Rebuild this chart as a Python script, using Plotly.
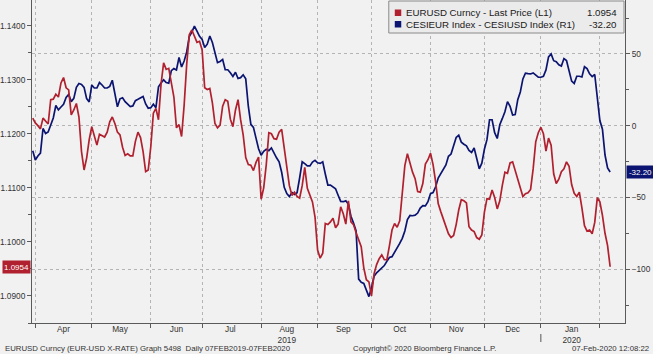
import pandas as pd
import plotly.graph_objects as go

# ---- data (daily, business days from 29-Mar-2019 to 07-Feb-2020) ----
eurusd = [
    1.1229, 1.1220, 1.1215, 1.1209, 1.1229, 1.1224, 1.1218, 1.1263, 1.1264, 1.1273,
    1.1268, 1.1294, 1.1304, 1.1285, 1.1281, 1.1235, 1.1244, 1.1256, 1.1231, 1.1167,
    1.1133, 1.1155, 1.1189, 1.1213, 1.1194, 1.1179, 1.1199, 1.1197, 1.1194, 1.1203,
    1.1222, 1.1231, 1.1219, 1.1203, 1.1198, 1.1175, 1.1160, 1.1163, 1.1159, 1.1159,
    1.1186, 1.1203, 1.1193, 1.1167, 1.1130, 1.1133, 1.1176, 1.1238, 1.1247, 1.1226,
    1.1292, 1.1331, 1.1319, 1.1321, 1.1290, 1.1268, 1.1211, 1.1217, 1.1195, 1.1253,
    1.1329, 1.1383, 1.1392, 1.1380, 1.1369, 1.1371, 1.1355, 1.1285, 1.1282, 1.1284,
    1.1257, 1.1219, 1.1211, 1.1216, 1.1251, 1.1263, 1.1260, 1.1227, 1.1213, 1.1244,
    1.1263, 1.1226, 1.1198, 1.1156, 1.1143, 1.1142, 1.1132, 1.1147, 1.1157, 1.1079,
    1.1100, 1.1143, 1.1202, 1.1200, 1.1191, 1.1190, 1.1203, 1.1208, 1.1174, 1.1130,
    1.1104, 1.1086, 1.1092, 1.1084, 1.1081, 1.1104, 1.1138, 1.1099, 1.1088, 1.1074,
    1.1046, 1.0985, 1.0970, 1.0979, 1.1034, 1.1032, 1.1037, 1.1044, 1.1026, 1.1033,
    1.1065, 1.1052, 1.1033, 1.1076, 1.1037, 1.1032, 1.1017, 1.1005, 1.0991, 1.0952,
    1.0930, 1.0926, 1.0900, 1.0941, 1.0958, 1.0969, 1.0976, 1.0967, 1.0967, 1.0993,
    1.1022, 1.1034, 1.1027, 1.1039, 1.1091, 1.1141, 1.1163, 1.1145, 1.1129, 1.1117,
    1.1093, 1.1092, 1.1108, 1.1144, 1.1152, 1.1164, 1.1143, 1.1111, 1.1071, 1.1056,
    1.1041, 1.1030, 1.1015, 1.1008, 1.1012, 1.1032, 1.1059, 1.1078, 1.1076, 1.1072,
    1.1028, 1.1022, 1.1019, 1.1008, 1.1005, 1.1013, 1.1055, 1.1080, 1.1079, 1.1096,
    1.1082, 1.1061, 1.1076, 1.1105, 1.1129, 1.1127, 1.1146, 1.1148, 1.1131, 1.1117,
    1.1102, 1.1084, 1.1089, 1.1091, 1.1097, 1.1135, 1.1185, 1.1202, 1.1212, 1.1200,
    1.1168, 1.1192, 1.1179, 1.1126, 1.1108, 1.1116, 1.1130, 1.1135, 1.1148, 1.1140,
    1.1106, 1.1090, 1.1084, 1.1092, 1.1063, 1.1030, 1.1020, 1.1022, 1.1015, 1.1036,
    1.1082, 1.1074, 1.1049, 1.1016, 1.0993, 1.0954,
]

cesi = [
    -17.4, -23.9, -21.1, -19.0, -1.9, -5.4, -4.3, 0.9, 5.4, 14.1,
    11.1, 13.1, 15.0, 19.8, 21.8, 16.8, 19.1, 26.8, 29.4, 28.8,
    26.7, 18.9, 16.6, 28.4, 26.3, 26.3, 30.1, 28.4, 26.3, 26.3,
    27.4, 31.7, 22.8, 13.2, 18.8, 19.5, 16.8, 14.7, 13.4, 13.8,
    17.5, 18.4, 19.3, 20.4, 15.2, 12.2, 12.6, 15.0, 12.6, 27.1,
    29.8, 32.0, 30.1, 29.7, 38.4, 39.8, 38.9, 47.6, 40.9, 45.1,
    51.4, 62.2, 65.3, 69.4, 66.0, 62.3, 60.2, 54.5, 56.8, 62.5,
    58.0, 50.1, 44.0, 44.8, 46.2, 39.1, 39.0, 36.9, 34.3, 37.3,
    32.9, 33.5, 35.5, 32.7, 13.6, 1.0, -1.1, -8.6, -16.0, -20.5,
    -17.8, -16.4, -17.3, -15.4, -19.3, -22.3, -25.1, -32.4, -42.9, -47.3,
    -49.4, -46.5, -47.9, -46.6, -36.4, -25.1, -26.4, -28.0, -28.0, -25.3,
    -24.1, -25.8, -26.2, -25.1, -33.6, -41.3, -41.3, -42.6, -43.9, -48.4,
    -52.7, -52.9, -52.3, -54.7, -63.0, -67.7, -73.3, -106.8, -109.1, -109.8,
    -114.6, -119.0, -113.0, -104.9, -102.4, -100.6, -99.0, -97.4, -94.4, -91.8,
    -91.2, -88.4, -85.5, -82.0, -78.4, -73.3, -65.4, -62.5, -62.7, -62.3,
    -60.8, -57.3, -55.6, -55.8, -52.9, -47.3, -46.5, -42.5, -36.4, -33.4,
    -31.0, -27.3, -21.3, -19.7, -14.0, -8.1, -6.6, -11.4, -12.9, -14.0,
    -17.2, -18.6, -15.5, -22.5, -30.0, -26.1, -16.4, -9.7, 4.2, 4.2,
    -4.8, -8.9, 0.7, 5.1, 9.8, 16.8, 13.6, 7.5, 7.8, 18.2,
    23.5, 32.6, 36.6, 36.3, 36.1, 36.8, 35.0, 33.8, 33.8, 34.5,
    38.9, 48.0, 50.0, 45.3, 44.6, 42.5, 41.6, 46.8, 45.5, 38.6,
    31.1, 29.5, 34.5, 34.5, 34.0, 41.2, 39.8, 36.2, 34.2, 35.7,
    20.0, 3.6, -2.4, -20.4, -29.4, -32.2,
]

dates = pd.bdate_range("2019-03-29", periods=len(eurusd))

month_starts = ["2019-04-01", "2019-05-01", "2019-06-03", "2019-07-01", "2019-08-01",
                "2019-09-02", "2019-10-01", "2019-11-01", "2019-12-02", "2020-01-01",
                "2020-02-03"]
month_mids = ["2019-04-16", "2019-05-16", "2019-06-17", "2019-07-16", "2019-08-15",
              "2019-09-16", "2019-10-16", "2019-11-15", "2019-12-17", "2020-01-17"]
month_labels = ["Apr", "May", "Jun", "Jul", "Aug<br>2019", "Sep", "Oct", "Nov", "Dec",
                "Jan<br>2020"]

name_l1 = "EURUSD Curncy - Last Price (L1)"
name_r1 = "CESIEUR Index - CESIUSD Index (R1)"
last_l1 = "1.0954"
last_r1 = "-32.20"

RED = "#b0202e"
NAVY = "#0b1470"
BG = "#f1f1f1"
AXC = "#5a5a5a"
FONT = "Liberation Sans, Arial, sans-serif"

xrange_ = ["2019-03-28 17:00", "2020-02-14 19:00"]
breaks = [dict(bounds=["sat", "mon"])]

fig = go.Figure()
# R1 series on the primary (right-side) axis, L1 series on the overlay so it draws on top
fig.add_trace(go.Scatter(x=dates, y=cesi, mode="lines", xaxis="x", yaxis="y",
                         line=dict(color=NAVY, width=1.7), showlegend=False,
                         hoverinfo="skip"))
fig.add_trace(go.Scatter(x=dates, y=eurusd, mode="lines", xaxis="x", yaxis="y2",
                         line=dict(color=RED, width=1.7), showlegend=False,
                         hoverinfo="skip"))
# empty carrier trace so the month-label axis (x2) is built
fig.add_trace(go.Scatter(x=[dates[0], dates[-1]], y=[None, None], mode="lines",
                         xaxis="x2", yaxis="y", showlegend=False, hoverinfo="skip"))

fig.update_layout(
    width=653, height=354,
    margin=dict(l=30, r=28, t=0, b=31, pad=0),
    paper_bgcolor=BG, plot_bgcolor=BG,
    showlegend=False,
    xaxis=dict(
        type="date", range=xrange_, rangebreaks=breaks,
        tickmode="array", tickvals=month_starts, ticktext=[""] * len(month_starts),
        ticks="outside", ticklen=4, tickcolor=AXC, tickwidth=1,
        showgrid=True, gridcolor="#b4b4b4", griddash="dot", gridwidth=1,
        showline=True, linecolor=AXC, linewidth=1, zeroline=False,
    ),
    xaxis2=dict(
        type="date", range=xrange_, rangebreaks=breaks, overlaying="x", anchor="y",
        side="bottom",
        tickmode="array", tickvals=month_mids, ticktext=month_labels,
        ticks="", showgrid=False, showline=False, zeroline=False,
        tickfont=dict(family=FONT, size=8.3, color="#333333"),
    ),
    yaxis=dict(
        range=[-137.4, 87.6], side="right", anchor="x",
        tick0=0, dtick=50,
        ticks="outside", ticklen=4, tickcolor=AXC,
        minor=dict(dtick=25, tick0=0, ticks="outside", ticklen=3, tickcolor=AXC,
                   showgrid=False),
        showgrid=True, gridcolor="#b4b4b4", griddash="dot", gridwidth=1,
        showline=True, linecolor=AXC, linewidth=1, zeroline=False,
        tickfont=dict(family=FONT, size=8.3, color="#333333"),
    ),
    yaxis2=dict(
        range=[1.0850, 1.14474], overlaying="y", side="left", anchor="x",
        tick0=1.09, dtick=0.01, tickformat=".4f",
        ticks="outside", ticklen=4, tickcolor=AXC,
        minor=dict(dtick=0.005, tick0=1.09, ticks="outside", ticklen=3, tickcolor=AXC,
                   showgrid=False),
        showgrid=False, showline=True, linecolor=AXC, linewidth=1, zeroline=False,
        tickfont=dict(family=FONT, size=8.3, color="#333333"),
    ),
)

W, H = 595.0, 323.0
def px(x):
    return (x - 30) / W
def py(y):
    return 1 - y / H

shapes = [
    # legend box
    dict(type="rect", xref="paper", yref="paper", x0=px(388), x1=px(624),
         y0=py(33), y1=py(1), fillcolor="#ebebeb", line=dict(color="#8a8a8a", width=1),
         layer="above"),
    dict(type="rect", xref="paper", yref="paper", x0=px(394), x1=px(400.5),
         y0=py(16), y1=py(9.5), fillcolor=RED, line=dict(width=0), layer="above"),
    dict(type="rect", xref="paper", yref="paper", x0=px(394), x1=px(400.5),
         y0=py(27.5), y1=py(21), fillcolor=NAVY, line=dict(width=0), layer="above"),
    # year separator under the axis
    dict(type="line", xref="x", yref="paper", x0="2020-01-01", x1="2020-01-01",
         y0=py(334), y1=py(342), line=dict(color="#555555", width=1)),
]
fig.update_layout(shapes=shapes)

ann = [
    dict(text=name_l1, x=px(403), y=py(12.7), xanchor="left", yanchor="middle",
         font=dict(family=FONT, size=9.7, color="#1a1a1a")),
    dict(text=name_r1, x=px(403), y=py(24.2), xanchor="left", yanchor="middle",
         font=dict(family=FONT, size=9.7, color="#1a1a1a")),
    dict(text=last_l1, x=px(619), y=py(12.7), xanchor="right", yanchor="middle",
         font=dict(family=FONT, size=9.7, color="#1a1a1a")),
    dict(text=last_r1, x=px(619), y=py(24.2), xanchor="right", yanchor="middle",
         font=dict(family=FONT, size=9.7, color="#1a1a1a")),
    # footer
    dict(text="EURUSD Curncy (EUR-USD X-RATE) Graph 5498  Daily 07FEB2019-07FEB2020",
         x=px(1), y=py(348), xanchor="left", yanchor="middle",
         font=dict(family=FONT, size=7.8, color="#333333")),
    dict(text="Copyright\u00a9 2020 Bloomberg Finance L.P.",
         x=px(350), y=py(348), xanchor="left", yanchor="middle",
         font=dict(family=FONT, size=7.8, color="#333333")),
    dict(text="07-Feb-2020 12:08:22",
         x=px(651), y=py(348), xanchor="right", yanchor="middle",
         font=dict(family=FONT, size=7.8, color="#333333")),
]
for a in ann:
    a.update(xref="paper", yref="paper", showarrow=False)

# last-value badges on the axes
ann.append(dict(text=last_l1, xref="paper", x=px(0), xanchor="left", yref="y2",
                y=eurusd[-1], yanchor="middle", showarrow=False, bgcolor=RED,
                width=27, height=12, borderpad=0,
                font=dict(family=FONT, size=8, color="white")))
ann.append(dict(text=last_r1, xref="paper", x=px(626), xanchor="left", yref="y",
                y=cesi[-1], yanchor="middle", showarrow=False, bgcolor=NAVY,
                width=27, height=12, borderpad=0,
                font=dict(family=FONT, size=8, color="white")))
fig.update_layout(annotations=ann)

fig.write_html("out.html", config={"displayModeBar": False})
